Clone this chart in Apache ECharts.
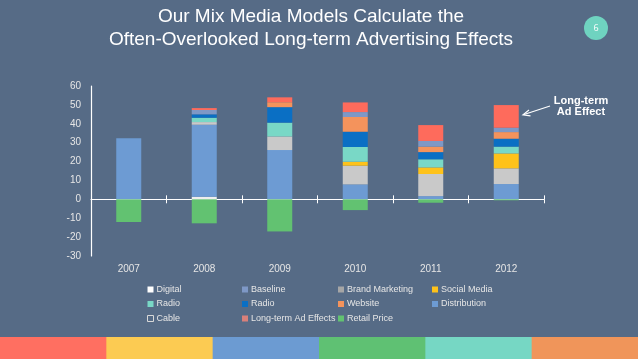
<!DOCTYPE html>
<html>
<head>
<meta charset="utf-8">
<script src="https://cdn.jsdelivr.net/npm/echarts@6/dist/echarts.min.js"></script>
<style>html,body{margin:0;padding:0;background:#566b86;}#c{width:638px;height:359px;}</style>
</head>
<body>
<div id="c"></div>
<script>
const years = ['2007', '2008', '2009', '2010', '2011', '2012'];
const yTicks = { min: -30, max: 60, interval: 10 };
const digital        = [0,    1.4,  0,    0,    0,    0];
const distribution   = [32.4, 38.1, 26.1, 7.9,  1.7,  8.1];
const brandMarketing = [0,    0,    0,    0,    0,    0];
const cable          = [0,    1.4,  7.2,  9.9,  11.7, 8.3];
const socialMedia    = [0,    0,    0,    2.1,  3.5,  7.9];
const radioTeal      = [0,    2.3,  7.3,  7.8,  4.3,  3.6];
const radioBlue      = [0,    1.8,  8.2,  8.1,  3.8,  4.2];
const website        = [0,    0,    2.6,  7.8,  2.9,  3.5];
const baseline       = [0,    2.3,  0,    2.6,  3.0,  2.3];
const longTerm       = [0,    1.0,  2.6,  5.1,  8.4,  12.0];
const retailPrice    = [-12,  -12.7, -17, -5.7, -1.8, -0.5];

const seriesDefs = [
  { name: 'Digital', data: digital, color: '#eeeeee' },
  { name: 'Distribution', data: distribution, color: '#6d9bd3' },
  { name: 'Brand Marketing', data: brandMarketing, color: '#a6a6a6' },
  { name: 'Cable', data: cable, color: '#c9c9c9' },
  { name: 'Social Media', data: socialMedia, color: '#fec21a' },
  { name: 'Radio', data: radioTeal, color: '#79d8c6' },
  { name: 'Radio ', data: radioBlue, color: '#0a6fc4' },
  { name: 'Website', data: website, color: '#f4935c' },
  { name: 'Baseline', data: baseline, color: '#7e98c6' },
  { name: 'Long-term Ad Effects', data: longTerm, color: '#fe6b5c' },
  { name: 'Retail Price', data: retailPrice, color: '#62c271' }
];

const legendCols = [
  ['Digital', 'Radio', 'Cable'],
  ['Baseline', 'Radio ', 'Long-term Ad Effects'],
  ['Brand Marketing', 'Website', 'Retail Price'],
  ['Social Media', 'Distribution']
];
const legendX = [142, 237, 333, 427];

const chart = echarts.init(document.getElementById('c'), null, { renderer: 'canvas' });

const legends = legendCols.map((col, i) => ({
  orient: 'vertical',
  left: legendX[i],
  top: 280,
  itemWidth: 6,
  itemHeight: 6,
  itemGap: 5.5,
  icon: 'rect',
  selectedMode: false,
  textStyle: { color: '#e6e6e6', fontSize: 9, fontFamily: 'Liberation Sans', padding: [0, 0, 0, -2] },
  data: col.map(n => n === 'Cable'
    ? { name: n, itemStyle: { color: 'rgba(0,0,0,0)', borderColor: '#d8d8d8', borderWidth: 1 } }
    : n === 'Long-term Ad Effects' ? { name: n, itemStyle: { color: '#d9807a' } }
    : n === 'Digital' ? { name: n, itemStyle: { color: '#ffffff' } }
    : n)
}));

const stripeColors = ['#ff6f61', '#fccb52', '#6c9bd2', '#5fc173', '#76d7c4', '#f0955a'];
const graphics = stripeColors.map((c, i) => ({
  type: 'rect', shape: { x: i * 638 / 6, y: 337, width: 638 / 6 + 1, height: 22 },
  style: { fill: c }, silent: true
}));
graphics.push({
  type: 'text', x: 311, y: 5,
  style: {
    text: 'Our Mix Media Models Calculate the\nOften-Overlooked Long-term Advertising Effects',
    fill: '#ffffff', font: '19px "Liberation Sans"', textAlign: 'center', lineHeight: 23
  }
});
graphics.push({ type: 'circle', shape: { cx: 596, cy: 28, r: 12 }, style: { fill: '#6fd3c0' } });
graphics.push({ type: 'text', x: 596, y: 28, style: { text: '6', fill: '#ffffff', font: '9px "Open Sans"', textAlign: 'center', textVerticalAlign: 'middle' } });
graphics.push({
  type: 'text', x: 581, y: 95.5,
  style: { text: 'Long-term\nAd Effect', fill: '#ffffff', font: 'bold 11px "Liberation Sans"', textAlign: 'center', lineHeight: 11 }
});
graphics.push({ type: 'line', shape: { x1: 550, y1: 106, x2: 524, y2: 114.5 }, style: { stroke: '#ffffff', lineWidth: 1.2 } });
graphics.push({ type: 'polyline', shape: { points: [[529, 110], [523, 114.8], [530.5, 115.8]] }, style: { stroke: '#ffffff', lineWidth: 1.2, fill: null } });

const option = {
  backgroundColor: '#566b86',
  animation: false,
  textStyle: { fontFamily: 'Liberation Sans' },
  grid: { left: 91, right: 94, top: 86, bottom: 103 },
  legend: legends,
  graphic: graphics,
  xAxis: [
    {
      type: 'category', data: years, position: 'bottom',
      axisLine: { show: false, onZero: false }, axisTick: { show: false },
      axisLabel: { color: '#e6e6e6', fontSize: 10, margin: 8 }
    },
    {
      type: 'category', data: years, position: 'bottom',
      axisLine: { show: true, onZero: true, lineStyle: { color: '#ffffff', width: 1.2 } },
      axisTick: { show: true, inside: true, length: 4, lineStyle: { color: '#ffffff' } },
      axisLabel: { show: false }
    },
    {
      type: 'category', data: years, position: 'bottom', offset: -56.7,
      axisLine: { show: false, onZero: false },
      axisTick: { show: true, inside: false, length: 4, lineStyle: { color: '#ffffff' } },
      axisLabel: { show: false }
    }
  ],
  yAxis: {
    type: 'value', min: yTicks.min, max: yTicks.max, interval: yTicks.interval,
    axisLine: { show: true, lineStyle: { color: '#ffffff', width: 1.2 } },
    axisTick: { show: false },
    splitLine: { show: false },
    axisLabel: { color: '#e6e6e6', fontSize: 10, margin: 10 }
  },
  series: seriesDefs.map(s => ({
    name: s.name, type: 'bar', stack: 'total', data: s.data,
    xAxisIndex: 0, barWidth: 25,
    itemStyle: { color: s.color }
  }))
};
chart.setOption(option);
</script>
</body>
</html>
